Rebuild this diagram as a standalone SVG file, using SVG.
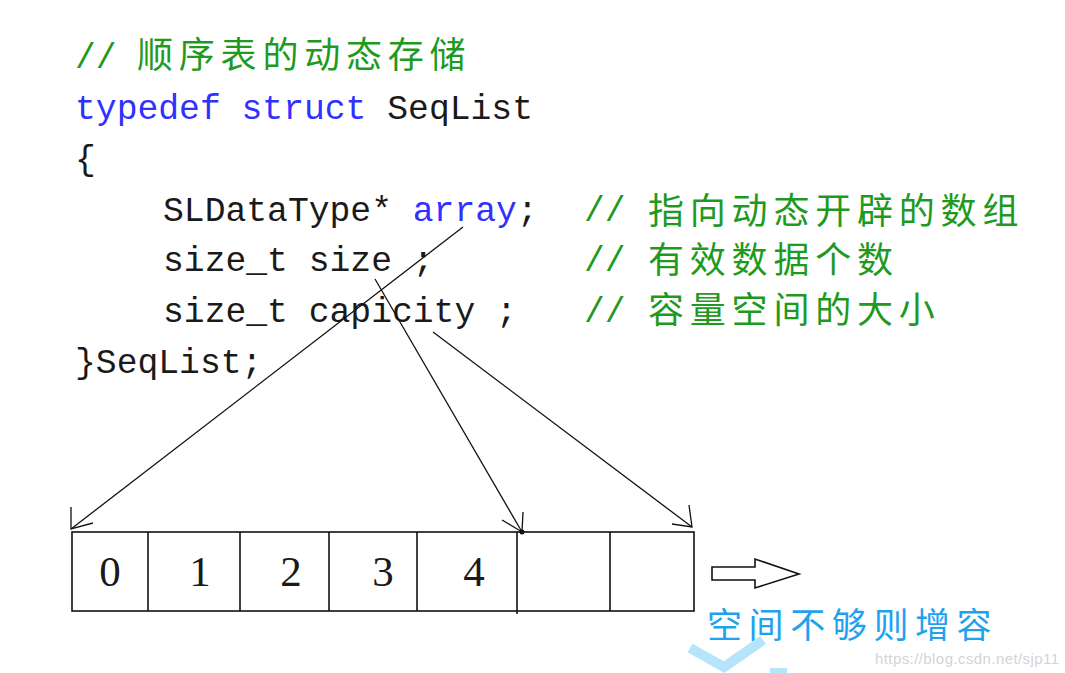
<svg xmlns="http://www.w3.org/2000/svg" width="1065" height="673" viewBox="0 0 1065 673">
<style>
.code{font-family:"Liberation Mono","DejaVu Sans Mono",monospace;font-size:34.7px;fill:#1a1a1a}
.kw{fill:#3030ff}
.cm{fill:#1e9a1e}
.cjk{font-family:"Noto Sans CJK SC","Noto Sans",sans-serif;font-size:36px;letter-spacing:5.8px;fill:#1e9a1e}
.digit{font-family:"Liberation Serif","Times New Roman",serif;font-size:43px;fill:#1a1a1a;text-anchor:middle}
.box{fill:none;stroke:#111;stroke-width:1.6}
.conn{fill:none;stroke:#111;stroke-width:1.3}
.blue{font-family:"Noto Sans CJK SC","Noto Sans",sans-serif;font-size:35px;letter-spacing:6.6px;fill:#1fa2ee}
.wm{font-family:"Liberation Sans",Arial,sans-serif;font-size:15px;fill:#d4d4d4}
</style>
<rect width="1065" height="673" fill="#ffffff"/>
<g id="code">
  <text class="code cm" x="75" y="68">//</text>
  <text class="cjk" x="137" y="68">顺序表的动态存储</text>
  <text class="code" x="75" y="119"><tspan class="kw">typedef struct</tspan> SeqList</text>
  <text class="code" x="75" y="170">{</text>
  <text class="code" x="163" y="221">SLDataType* <tspan class="kw">array</tspan>;</text>
  <text class="code cm" x="584" y="221">//</text>
  <text class="cjk" x="648" y="224">指向动态开辟的数组</text>
  <text class="code" x="163" y="271">size_t size ;</text>
  <text class="code cm" x="584" y="271">//</text>
  <text class="cjk" x="648" y="273">有效数据个数</text>
  <text class="code" x="163" y="322">size_t capicity ;</text>
  <text class="code cm" x="584" y="322">//</text>
  <text class="cjk" x="648" y="323">容量空间的大小</text>
  <text class="code" x="75" y="373">}SeqList;</text>
</g>
<g id="array">
  <rect class="box" x="72" y="532" width="622" height="79"/>
  <line class="box" x1="148" y1="532" x2="148" y2="611"/>
  <line class="box" x1="240" y1="532" x2="240" y2="611"/>
  <line class="box" x1="329" y1="532" x2="329" y2="611"/>
  <line class="box" x1="417" y1="532" x2="417" y2="611"/>
  <line class="box" x1="517" y1="532" x2="517" y2="614"/>
  <line class="box" x1="610" y1="532" x2="610" y2="611"/>
  <circle cx="522" cy="532" r="2.5" fill="#111"/>
  <text class="digit" x="110" y="586">0</text>
  <text class="digit" x="200" y="586">1</text>
  <text class="digit" x="291" y="586">2</text>
  <text class="digit" x="383" y="586">3</text>
  <text class="digit" x="474" y="586">4</text>
</g>
<g id="grow-arrow">
  <polygon class="box" points="712,567 755,567 755,559 799,574 755,588 755,580 712,580"/>
  <text class="blue" x="707" y="638">空间不够则增容</text>
</g>
<g id="connectors">
  <line class="conn" x1="463" y1="227" x2="71" y2="529"/>
  <polyline class="conn" points="71,507 71,529 93,523"/>
  <line class="conn" x1="375" y1="279" x2="522" y2="532"/>
  <polyline class="conn" points="502,520 522,532 523,512"/>
  <line class="conn" x1="433" y1="332" x2="692" y2="527"/>
  <polyline class="conn" points="672,524 692,527 689,505"/>
</g>
<g id="watermark">
  <polyline points="690,648 724,667 763,640" fill="none" stroke="#b5e4fb" stroke-width="10"/>
  <rect x="770" y="668" width="17" height="5" fill="#b5e4fb"/>
  <text class="wm" x="875" y="664" textLength="184">https://blog.csdn.net/sjp11</text>
</g>
</svg>
